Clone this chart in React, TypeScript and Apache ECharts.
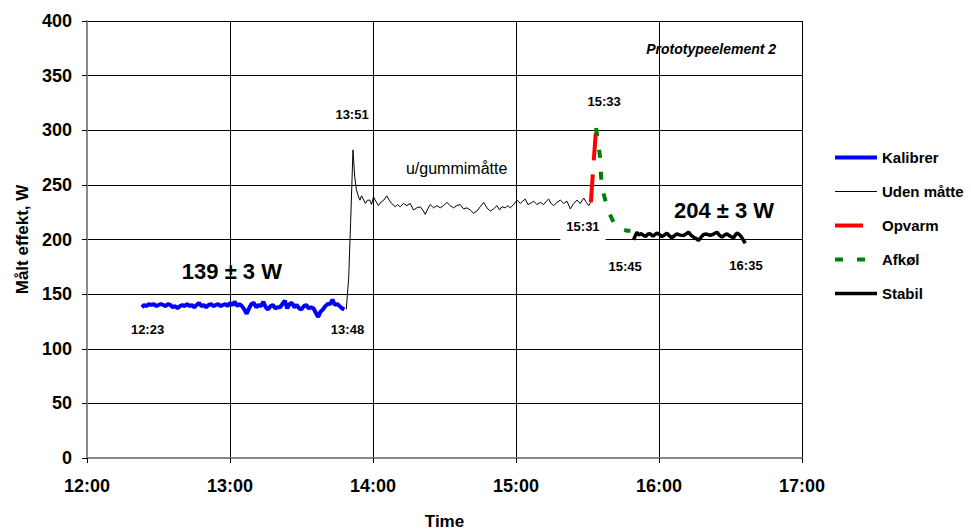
import React, { useEffect, useRef } from "react";
import * as echarts from "echarts";

const FONT = "'Liberation Sans', Arial, Helvetica, sans-serif";

// Minutes after 12:00
const xTickLabels = ["12:00", "13:00", "14:00", "15:00", "16:00", "17:00"];
const yTicks = [0, 50, 100, 150, 200, 250, 300, 350, 400];

const seriesNames = ["Kalibrer", "Uden måtte", "Opvarm", "Afkøl", "Stabil"];

// Kalibrer: one reading per minute from 12:23 (minute 23) to 13:48 (minute 108)
const kalibrerStartMinute = 23;
const kalibrerValues = [
  138, 140, 139, 141, 140, 141, 139, 140, 141, 140, 139, 141, 140, 138, 139, 137,
  139, 140, 139, 141, 139, 140, 138, 140, 142, 139, 140, 138, 140, 141, 139, 140,
  141, 139, 140, 141, 139, 142, 140, 143, 139, 141, 139, 136, 132, 137, 141, 142,
  138, 140, 139, 143, 138, 136, 139, 140, 137, 138, 138, 141, 144, 137, 141, 142,
  138, 140, 137, 136, 139, 140, 137, 138, 137, 133, 129, 134, 136, 139, 141, 141,
  145, 140, 141, 139, 137, 136,
];

// Uden måtte: [minute, W]
const udenMaatte = [
  [108.8, 136], [109.8, 165], [110.6, 215], [111.6, 282], [112.3, 258], [113, 246],
  [113.8, 240], [114.5, 236], [115.2, 240], [115.9, 237], [116.8, 233], [117.7, 236],
  [118.7, 236], [119.4, 232], [120.2, 239], [121.2, 235], [122.3, 231], [123.2, 234],
  [124.5, 236], [125.8, 240], [126.8, 236], [127.8, 233], [129.3, 230], [130.3, 232],
  [131.4, 230], [132.8, 233], [134.2, 231], [135.6, 233], [137.0, 227], [138.4, 229],
  [139.8, 230], [140.9, 227], [141.9, 223], [143.0, 228], [144.0, 232], [145.4, 229],
  [146.8, 231], [148.2, 229], [149.6, 231], [151.0, 234], [152.4, 231], [153.8, 229],
  [155.2, 231], [156.6, 232], [158.0, 228], [159.4, 229], [160.8, 227], [162.2, 224],
  [163.6, 226], [165.0, 230], [166.4, 234], [167.8, 229], [169.2, 226], [170.6, 228],
  [172.0, 231], [173.1, 227], [174.1, 230], [175.5, 229], [176.6, 231], [177.6, 229],
  [179.0, 232], [180.4, 236], [181.8, 233], [182.8, 235], [183.9, 237], [185.0, 232],
  [186.0, 233], [187.4, 235], [188.8, 232], [190.2, 234], [191.6, 232], [192.7, 235],
  [193.7, 237], [194.7, 233], [195.8, 231], [197.2, 234], [198.6, 236], [200.0, 233],
  [201.4, 235], [202.8, 228], [204.2, 233], [205.6, 236], [207.0, 233], [208.4, 238],
  [209.5, 234], [210.5, 231], [211.4, 234],
];

const opvarm = [[211.4, 234], [212.5, 268], [213.6, 302]];

const afkoel = [
  [213.6, 302], [214.5, 288], [215.3, 275], [215.7, 257], [216.5, 244], [217.8, 233],
  [219.4, 223], [221.1, 215], [223.5, 210], [226.6, 208], [228, 208],
];

const stabil = [
  [229.3, 199.7], [230.7, 206.7], [231.5, 204], [232.5, 205.5], [233.5, 203.7],
  [234.5, 202.8], [235.3, 205], [236.3, 205.2], [237.5, 203], [239.1, 205.8],
  [240.2, 204.5], [241.2, 202.7], [242.2, 204], [243.3, 205.8], [244.3, 203.5],
  [245.4, 201.5], [246.5, 203.5], [247.5, 205.2], [248.9, 204], [250.3, 203.7],
  [251.3, 205], [252.4, 206.7], [253.4, 204], [254.5, 202.1], [255.5, 201],
  [256.6, 199.1], [257.6, 202], [258.7, 204.6], [259.9, 205], [261.5, 203.7],
  [262.9, 205], [264.3, 206.7], [265.3, 204], [266.4, 202.1], [267.5, 204],
  [268.5, 205.2], [269.9, 203], [271.3, 201.5], [272.0, 204], [272.7, 205.8],
  [273.4, 205], [274.1, 203.7], [274.8, 201.5], [275.5, 199.1], [276.2, 196.6],
];

// Annotations: text anchored in data coordinates [minute, W]
const bigNotes = [
  { text: "139 ± 3 W", at: [60.8, 171] },
  { text: "204 ± 3 W", at: [267.3, 227] },
];
const timeNotes = [
  { text: "12:23", at: [25.4, 118] },
  { text: "13:48", at: [109.3, 118] },
  { text: "13:51", at: [111.2, 314.7] },
  { text: "15:33", at: [217, 326.6] },
  { text: "15:45", at: [225.8, 175] },
  { text: "16:35", at: [276.5, 176.6] },
];
const boxedTimeNotes = [{ text: "15:31", at: [208.1, 211.8] }];
const plainNotes = [{ text: "u/gummimåtte", at: [155.1, 265] }];
const titleNotes = [{ text: "Prototypeelement 2", at: [261.9, 374] }];

function noteSeries(notes: { text: string; at: number[] }[], label: any) {
  return {
    type: "scatter",
    silent: true,
    symbol: "circle",
    symbolSize: 1,
    itemStyle: { color: "rgba(0,0,0,0)", opacity: 1 },
    z: 10,
    data: notes.map((n) => ({ name: n.text, value: n.at })),
    label: {
      show: true,
      position: "inside",
      formatter: (p: any) => p.name,
      fontFamily: FONT,
      color: "#000",
      opacity: 1,
      ...label,
    },
  };
}

export default function App() {
  const ref = useRef<HTMLDivElement>(null);

  useEffect(() => {
    if (!ref.current) return;
    const chart = echarts.init(ref.current, null, { renderer: "svg" });

    const lineBase = {
      type: "line",
      showSymbol: false,
      symbol: "none",
      smooth: false,
      silent: true,
    };

    chart.setOption({
      animation: false,
      backgroundColor: "#fff",
      grid: { left: 87, right: 169, top: 21, bottom: 72, containLabel: false, outerBoundsMode: "none" },
      legend: {
        orient: "vertical",
        left: 828,
        top: 145,
        itemWidth: 42,
        itemHeight: 14,
        itemGap: 19,
        data: seriesNames,
        itemStyle: { color: "rgba(0,0,0,0)", borderWidth: 0, opacity: 0 },
        lineStyle: { width: "inherit" },
        textStyle: { fontFamily: FONT, fontWeight: "bold", fontSize: 15, color: "#000" },
      },
      xAxis: {
        type: "value",
        min: 0,
        max: 300,
        interval: 60,
        name: "Time",
        nameLocation: "middle",
        nameGap: 55,
        nameTextStyle: { fontFamily: FONT, fontWeight: "bold", fontSize: 17, color: "#000" },
        axisLine: { show: true, onZero: false, lineStyle: { color: "#888", width: 2 } },
        axisTick: { show: true, length: 5, lineStyle: { color: "#000" } },
        axisLabel: {
          fontFamily: FONT,
          fontWeight: "bold",
          fontSize: 18,
          color: "#000",
          margin: 19,
          showMinLabel: true,
          showMaxLabel: true,
          formatter: (v: number) => xTickLabels[Math.round(v / 60)],
        },
        splitLine: { show: true, lineStyle: { color: "#000", width: 1 } },
      },
      yAxis: {
        type: "value",
        min: yTicks[0],
        max: yTicks[yTicks.length - 1],
        interval: 50,
        name: "Målt effekt, W",
        nameLocation: "middle",
        nameGap: 54,
        nameTextStyle: { fontFamily: FONT, fontWeight: "bold", fontSize: 17, color: "#000" },
        axisLine: { show: true, lineStyle: { color: "#888", width: 2 } },
        axisTick: { show: true, length: 5, lineStyle: { color: "#000" } },
        axisLabel: {
          fontFamily: FONT,
          fontWeight: "bold",
          fontSize: 18,
          color: "#000",
          margin: 15,
          showMinLabel: true,
          showMaxLabel: true,
        },
        splitLine: { show: true, lineStyle: { color: "#000", width: 1 } },
      },
      series: [
        {
          ...lineBase,
          name: "Kalibrer",
          data: kalibrerValues.map((v, i) => [kalibrerStartMinute + i, v]),
          lineStyle: { color: "#0000ff", width: 4 },
          itemStyle: { color: "#0000ff" },
          z: 3,
        },
        {
          ...lineBase,
          name: "Uden måtte",
          data: udenMaatte,
          lineStyle: { color: "#000", width: 1 },
          itemStyle: { color: "#000" },
          z: 2,
        },
        {
          ...lineBase,
          name: "Opvarm",
          data: opvarm,
          lineStyle: { color: "#ff0000", width: 4, type: [28, 14] },
          itemStyle: { color: "#ff0000" },
          z: 3,
        },
        {
          ...lineBase,
          name: "Afkøl",
          data: afkoel,
          lineStyle: { color: "#008000", width: 4, type: [8, 14] },
          itemStyle: { color: "#008000" },
          z: 3,
        },
        {
          ...lineBase,
          name: "Stabil",
          data: stabil,
          lineStyle: { color: "#000", width: 3.5 },
          itemStyle: { color: "#000" },
          z: 3,
        },
        noteSeries(bigNotes, { fontSize: 22, fontWeight: "bold" }),
        noteSeries(timeNotes, { fontSize: 13, fontWeight: "bold" }),
        noteSeries(boxedTimeNotes, {
          fontSize: 13,
          fontWeight: "bold",
          backgroundColor: "#fff",
          padding: [7, 6, 8, 6],
        }),
        noteSeries(plainNotes, { fontSize: 16, fontWeight: "normal" }),
        noteSeries(titleNotes, { fontSize: 14, fontWeight: "bold", fontStyle: "italic" }),
      ],
    });

    return () => chart.dispose();
  }, []);

  return (
    <div
      ref={ref}
      style={{ position: "fixed", left: 0, top: 0, width: 971, height: 530, background: "#fff" }}
    />
  );
}
